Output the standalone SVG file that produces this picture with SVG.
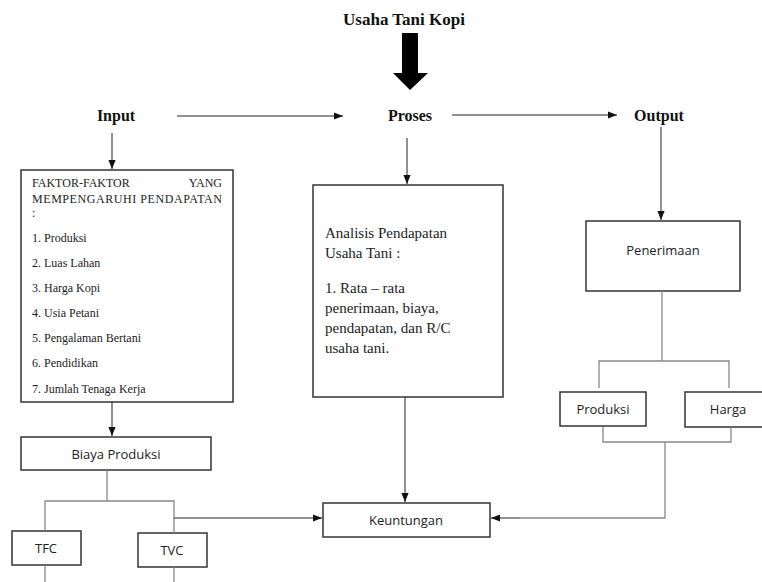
<svg xmlns="http://www.w3.org/2000/svg" width="762" height="582" viewBox="0 0 762 582">
<style>
.bg{fill:#fff}
.box{fill:#fff;stroke:#333;stroke-width:1.5}
.head{font-family:"Liberation Serif",serif;font-weight:bold;font-size:16px;fill:#111}
.ser{font-family:"Liberation Serif","Times New Roman",serif;fill:#222}
.sans{font-family:"Open Sans","Liberation Sans",sans-serif;font-size:13px;fill:#222}
.arr{stroke:#222;stroke-width:1;fill:none;marker-end:url(#ah)}
.tree{stroke:#888;stroke-width:1.3;fill:none}
</style>
<defs>
<marker id="ah" viewBox="0 0 10 10" refX="10" refY="5" markerWidth="9" markerHeight="9" markerUnits="userSpaceOnUse" orient="auto">
<path d="M0,1 L10,5 L0,9 z" fill="#111"/>
</marker>
</defs>
<rect class="bg" x="0" y="0" width="762" height="582"/>

<g id="title">
<text class="head" x="404" y="25" text-anchor="middle" style="font-size:17px">Usaha Tani Kopi</text>
<path d="M402,33 H418 V73 H428 L410,90 L393,73 H402 Z" fill="#000"/>
</g>
<g id="input"><text class="head" x="116" y="121" text-anchor="middle">Input</text></g>
<g id="proses"><text class="head" x="410" y="121" text-anchor="middle">Proses</text></g>
<g id="output"><text class="head" x="659" y="121" text-anchor="middle">Output</text></g>

<g id="faktor">
<rect class="box" x="21" y="170" width="212" height="232"/>
<g class="ser" style="font-size:12px">
<text x="32" y="187">FAKTOR-FAKTOR</text>
<text x="222" y="187" text-anchor="end">YANG</text>
<text x="32" y="203" textLength="190" lengthAdjust="spacing">MEMPENGARUHI PENDAPATAN</text>
<text x="32" y="217">:</text>
<text x="32" y="242">1. Produksi</text>
<text x="32" y="267">2. Luas Lahan</text>
<text x="32" y="292">3. Harga Kopi</text>
<text x="32" y="317">4. Usia Petani</text>
<text x="32" y="342">5. Pengalaman Bertani</text>
<text x="32" y="367">6. Pendidikan</text>
<text x="32" y="393">7. Jumlah Tenaga Kerja</text>
</g>
</g>

<g id="analisis">
<rect class="box" x="313" y="185" width="190" height="212"/>
<g class="ser" style="font-size:15px">
<text x="325" y="238">Analisis Pendapatan</text>
<text x="325" y="258">Usaha Tani :</text>
<text x="325" y="293">1. Rata – rata</text>
<text x="325" y="313">penerimaan, biaya,</text>
<text x="325" y="333">pendapatan, dan R/C</text>
<text x="325" y="353">usaha tani.</text>
</g>
</g>

<g id="penerimaan">
<rect class="box" x="586" y="221" width="154" height="70"/>
<text class="sans" x="663" y="255" text-anchor="middle">Penerimaan</text>
</g>
<g id="produksi">
<rect class="box" x="560" y="392" width="86" height="34"/>
<text class="sans" x="603" y="414" text-anchor="middle">Produksi</text>
</g>
<g id="harga">
<rect class="box" x="685" y="392" width="90" height="35"/>
<text class="sans" x="728" y="414" text-anchor="middle">Harga</text>
</g>
<g id="biaya">
<rect class="box" x="21" y="437" width="190" height="33"/>
<text class="sans" x="116" y="459" text-anchor="middle">Biaya Produksi</text>
</g>
<g id="tfc">
<rect class="box" x="12" y="531" width="69" height="34"/>
<text class="sans" x="46" y="553" text-anchor="middle">TFC</text>
</g>
<g id="tvc">
<rect class="box" x="138" y="533" width="69" height="34"/>
<text class="sans" x="172" y="555" text-anchor="middle">TVC</text>
</g>
<g id="keuntungan">
<rect class="box" x="323" y="503" width="167" height="34"/>
<text class="sans" x="406" y="525" text-anchor="middle">Keuntungan</text>
</g>

<g id="connectors">
<line class="arr" x1="177" y1="116" x2="343" y2="116"/>
<line class="arr" x1="452" y1="115" x2="617" y2="115"/>
<line class="arr" x1="112" y1="133" x2="112" y2="169"/>
<line class="arr" x1="407" y1="138" x2="407" y2="184"/>
<line class="arr" x1="661" y1="127" x2="661" y2="220"/>
<line class="arr" x1="112" y1="402" x2="112" y2="436"/>
<line class="arr" x1="405" y1="397" x2="405" y2="502"/>
<line class="tree" x1="662" y1="291" x2="662" y2="361"/>
<path class="tree" d="M599,388 V361 H729 V388"/>
<path class="tree" d="M603,427 V442 H731 V427"/>
<path class="tree" d="M665,442 V518 H520"/>
<line class="arr" x1="520" y1="518" x2="491" y2="518"/>
<line class="tree" x1="107" y1="470" x2="107" y2="501"/>
<path class="tree" d="M45,531 V501 H174 V533"/>
<line class="arr" x1="174" y1="518" x2="322" y2="518"/>
<line class="tree" x1="45" y1="565" x2="45" y2="582"/>
<line class="tree" x1="174" y1="567" x2="174" y2="582"/>
</g>
</svg>
